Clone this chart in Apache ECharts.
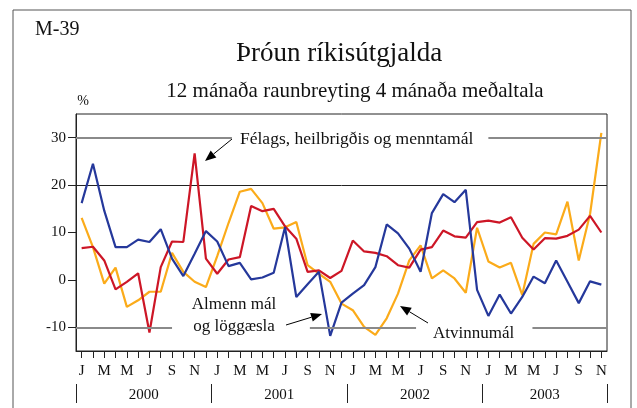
<!DOCTYPE html>
<html>
<head>
<meta charset="utf-8">
<script src="https://cdn.jsdelivr.net/npm/echarts@6/dist/echarts.min.js"></script>
<style>
  html, body { margin: 0; padding: 0; background: #fff; }
  #chart { width: 637px; height: 408px; }
</style>
</head>
<body>
<div id="chart"></div>
<script>
// 12 mánaða raunbreyting, jan 2000 - nóv 2003
const months = [];
const monthLetters = ['J', 'F', 'M', 'A', 'M', 'J', 'J', 'A', 'S', 'O', 'N', 'D'];
const years = ['2000', '2001', '2002', '2003'];
for (let y = 0; y < 4; y++) {
  for (let m = 0; m < 12; m++) {
    if (y === 3 && m === 11) break;
    months.push(monthLetters[m]);
  }
}

const almennMal = [
  16.2, 24.5, 14.6, 6.9, 6.9, 8.5, 8.0, 10.7, 4.5, 0.8,
  5.5, 10.3, 8.1, 2.9, 3.6, 0.1, 0.5, 1.5, 11.1, -3.6,
  -0.9, 1.7, -11.8, -4.8, -2.9, -1.1, 2.7, 11.7, 9.8, 6.6,
  1.7, 14.1, 18.1, 16.4, 19.0, -2.1, -7.6, -3.1, -7.1, -3.6,
  0.7, -0.7, 4.1, -0.4, -4.9, -0.3, -1.0
];
const felagsmal = [
  6.7, 7.0, 4.1, -2.0, -0.4, 1.4, -11.1, 2.7, 8.1, 8.0,
  26.7, 4.5, 1.3, 4.3, 4.8, 15.6, 14.5, 15.0, 11.3, 8.7,
  1.7, 2.0, 0.4, 1.9, 8.3, 6.0, 5.7, 5.0, 3.1, 2.6,
  6.4, 6.9, 10.4, 9.2, 8.9, 12.2, 12.5, 12.1, 13.2, 8.9,
  6.4, 8.8, 8.7, 9.3, 10.6, 13.5, 10.0
];
const atvinnumal = [
  13.1, 6.9, -0.8, 2.6, -5.7, -4.3, -2.5, -2.5, 5.7, 1.7,
  -0.4, -1.5, 5.0, 12.0, 18.6, 19.2, 16.2, 10.8, 11.1, 12.2,
  3.1, 1.3, -0.4, -5.0, -6.4, -9.9, -11.6, -8.1, -2.9, 4.1,
  7.3, 0.3, 2.0, 0.3, -2.7, 11.0, 3.9, 2.6, 3.6, -3.2,
  7.6, 10.0, 9.6, 16.5, 4.1, 13.9, 31.0
];

const yTicks = [-10, 0, 10, 20, 30];
// year separators and year label positions in months from jan 2000
const yearBounds = [0, 12, 24, 36, 47];
const yearCenters = [6, 18, 30, 41.5];

const font = '"Liberation Serif", "Times New Roman", serif';
const chart = echarts.init(document.getElementById('chart'));

function arrow(x1, y1, x2, y2) {
  const a = Math.atan2(y2 - y1, x2 - x1);
  const len = 11, w = 4.5;
  const bx = x2 - len * Math.cos(a), by = y2 - len * Math.sin(a);
  return [
    { type: 'line', shape: { x1: x1, y1: y1, x2: bx, y2: by }, style: { stroke: '#000', lineWidth: 1 } },
    {
      type: 'polygon',
      shape: { points: [[x2, y2],
        [bx + w * Math.sin(a), by - w * Math.cos(a)],
        [bx - w * Math.sin(a), by + w * Math.cos(a)]] },
      style: { fill: '#000' }
    }
  ];
}

function txt(x, y, s, size, align) {
  return {
    type: 'text', x: x, y: y,
    style: { text: s, font: size + 'px ' + font, fill: '#111', textAlign: align || 'left', textVerticalAlign: 'middle' }
  };
}

const gray = { color: '#8a8a8a', width: 2, type: 'solid' };

let option = {
  animation: false,
  grid: { left: 76, top: 114, width: 531, height: 237, show: true, borderColor: '#222', borderWidth: 1 },
  xAxis: [
    {
      type: 'category',
      data: months,
      boundaryGap: true,
      axisLine: { onZero: false, lineStyle: { color: '#222' } },
      axisTick: { show: true, alignWithLabel: true, interval: 0, length: 7, lineStyle: { color: '#222' } },
      axisLabel: {
        interval: 1, margin: 13,
        fontFamily: font, fontSize: 15, color: '#111'
      }
    },
    {
      type: 'value',
      min: 0, max: 47,
      position: 'bottom',
      offset: 33,
      splitLine: { show: false },
      axisLine: { show: false, onZero: false },
      axisTick: { show: true, customValues: yearBounds, inside: false, length: 19, lineStyle: { color: '#222' } },
      axisLabel: {
        customValues: yearCenters, margin: 4,
        fontFamily: font, fontSize: 15, color: '#111',
        formatter: function (v) { return years[yearCenters.indexOf(v)]; }
      }
    }
  ],
  yAxis: {
    type: 'value',
    min: -15, max: 35, interval: 5,
    axisLine: { show: true, lineStyle: { color: '#222' } },
    axisTick: { show: true, customValues: yTicks, length: 8, lineStyle: { color: '#222' } },
    axisLabel: {
      customValues: yTicks, margin: 10,
      fontFamily: font, fontSize: 15, color: '#111'
    },
    splitLine: {
      show: true,
      lineStyle: {
        color: ['transparent', 'transparent', 'transparent', '#222', 'transparent', '#222',
          'transparent', '#222', 'transparent', 'transparent', 'transparent'],
        width: 1
      }
    }
  },
  series: [
    {
      name: 'Gridlines',
      type: 'line',
      xAxisIndex: 1,
      data: [],
      silent: true,
      markLine: {
        silent: true, symbol: 'none', label: { show: false }, lineStyle: gray, animation: false,
        data: [
          [{ coord: [0, 30] }, { coord: [13.8, 30] }],
          [{ coord: [36.5, 30] }, { coord: [47, 30] }],
          [{ coord: [0, -10] }, { coord: [8.5, -10] }],
          [{ coord: [20.7, -10] }, { coord: [30.1, -10] }],
          [{ coord: [40.4, -10] }, { coord: [47, -10] }]
        ]
      }
    },
    {
      name: 'Atvinnumál', type: 'line', data: atvinnumal, symbol: 'none',
      lineStyle: { color: '#fbab1a', width: 2.2 }, itemStyle: { color: '#fbab1a' }
    },
    {
      name: 'Félags, heilbrigðis og menntamál', type: 'line', data: felagsmal, symbol: 'none',
      lineStyle: { color: '#cd1626', width: 2.2 }, itemStyle: { color: '#cd1626' }
    },
    {
      name: 'Almenn mál og löggæsla', type: 'line', data: almennMal, symbol: 'none',
      lineStyle: { color: '#25389b', width: 2.2 }, itemStyle: { color: '#25389b' }
    }
  ],
  graphic: [
    { type: 'rect', shape: { x: 13, y: 10, width: 618, height: 420 }, style: { fill: 'none', stroke: '#555', lineWidth: 1 } },
    txt(35, 30, 'M-39', 20),
    txt(339, 54, 'Þróun ríkisútgjalda', 27, 'center'),
    txt(355, 91, '12 mánaða raunbreyting 4 mánaða meðaltala', 21, 'center'),
    txt(83, 101, '%', 14, 'center'),
    txt(240, 139, 'Félags, heilbrigðis og menntamál', 17.5),
    txt(234, 305, 'Almenn mál', 17, 'center'),
    txt(234, 327, 'og löggæsla', 17, 'center'),
    txt(433, 334, 'Atvinnumál', 17)
  ].concat(arrow(232, 139, 205, 161), arrow(286, 325, 322, 314), arrow(428, 323, 400, 306))
};

chart.setOption(option);
</script>
</body>
</html>
